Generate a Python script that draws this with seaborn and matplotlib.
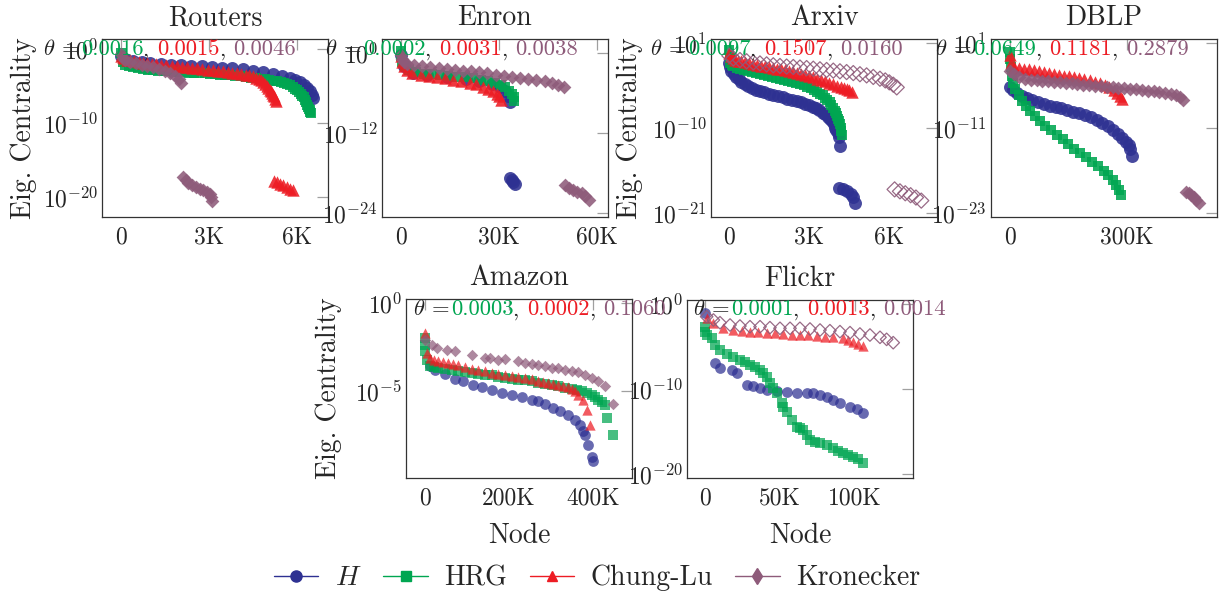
import numpy as np
import pandas as pd
import matplotlib
matplotlib.use("Agg")
import matplotlib.pyplot as plt
import seaborn as sns
from matplotlib.lines import Line2D
from matplotlib.offsetbox import TextArea, HPacker, AnnotationBbox
from matplotlib.ticker import FixedLocator, FixedFormatter, NullLocator

# ---------------- data (node index, log10 eigenvector centrality) ----------------
MODELS = ["H", "HRG", "Chung-Lu", "Kronecker"]
LEGEND_LABELS = ["$H$", "HRG", "Chung-Lu", "Kronecker"]
PANELS = ["Routers", "Enron", "Arxiv", "DBLP", "Amazon", "Flickr"]

ROUTERS_THETA = ["0.0016", "0.0015", "0.0046"]
ENRON_THETA = ["0.0002", "0.0031", "0.0038"]
ARXIV_THETA = ["0.0097", "0.1507", "0.0160"]
DBLP_THETA = ["0.0649", "0.1181", "0.2879"]
AMAZON_THETA = ["0.0003", "0.0002", "0.1060"]
FLICKR_THETA = ["0.0001", "0.0013", "0.0014"]

ROUTERS_XTICKS = [0, 3000, 6000]
ROUTERS_XTICKLABELS = ["0", "3K", "6K"]
ENRON_XTICKS = [0, 30000, 60000]
ENRON_XTICKLABELS = ["0", "30K", "60K"]
ARXIV_XTICKS = [0, 3000, 6000]
ARXIV_XTICKLABELS = ["0", "3K", "6K"]
DBLP_XTICKS = [0, 300000]
DBLP_XTICKLABELS = ["0", "300K"]
AMAZON_XTICKS = [0, 200000, 400000]
AMAZON_XTICKLABELS = ["0", "200K", "400K"]
FLICKR_XTICKS = [0, 50000, 100000]
FLICKR_XTICKLABELS = ["0", "50K", "100K"]

ROUTERS_YEXP = [0, -10, -20]
ENRON_YEXP = [0, -12, -24]
ARXIV_YEXP = [1, -10, -21]
DBLP_YEXP = [1, -11, -23]
AMAZON_YEXP = [0, -5]
FLICKR_YEXP = [0, -10, -20]

# Routers
ROUTERS_H_N = [0, 150, 400, 700, 1000, 1350, 1700, 2050, 2400, 2750, 3100, 3450, 3800, 4150, 4500, 4850, 5200, 5500, 5750, 5950, 6120, 6250, 6350, 6430, 6500, 6540]
ROUTERS_H_LOG = [-0.9, -1.4, -1.65, -1.78, -1.88, -2.0, -2.1, -2.2, -2.28, -2.36, -2.45, -2.54, -2.63, -2.76, -2.92, -3.1, -3.35, -3.6, -3.9, -4.2, -4.5, -4.9, -5.3, -5.7, -6.15, -6.6]
ROUTERS_HRG_N = [0, 20, 60, 150, 275, 400, 575, 750, 925, 1100, 1275, 1450, 1625, 1800, 1975, 2150, 2325, 2500, 2675, 2850, 3025, 3200, 3375, 3550, 3725, 3900, 4075, 4250, 4425, 4600, 4750, 4900, 5050, 5200, 5325, 5450, 5550, 5650, 5750, 5850, 5925, 6000, 6065, 6130, 6185, 6240, 6280, 6320, 6355, 6390, 6415, 6440, 6460, 6480]
ROUTERS_HRG_LOG = [-0.5, -1.1, -1.7, -2.2, -2.36, -2.48, -2.6, -2.7, -2.78, -2.85, -2.91, -2.97, -3.02, -3.06, -3.1, -3.14, -3.18, -3.22, -3.26, -3.3, -3.35, -3.4, -3.45, -3.5, -3.56, -3.62, -3.7, -3.78, -3.87, -3.97, -4.04, -4.12, -4.2, -4.28, -4.36, -4.45, -4.56, -4.7, -4.9, -5.15, -5.37, -5.6, -5.85, -6.1, -6.3, -6.5, -6.85, -7.2, -7.5, -7.8, -8.05, -8.3, -8.5, -8.7]
ROUTERS_CL_N = [0, 50, 100, 200, 300, 450, 600, 750, 900, 1050, 1200, 1375, 1550, 1725, 1900, 2075, 2250, 2425, 2600, 2775, 2950, 3125, 3300, 3475, 3650, 3800, 3950, 4100, 4250, 4375, 4500, 4600, 4700, 4775, 4850, 4920, 4980, 5030, 5080, 5120, 5160, 5200, 5230, 5260, 5285,
                5210, 5320, 5430, 5540, 5650, 5760, 5870]
ROUTERS_CL_LOG = [-0.9, -1.1, -1.25, -1.42, -1.55, -1.68, -1.78, -1.87, -1.95, -2.02, -2.08, -2.15, -2.21, -2.28, -2.34, -2.4, -2.47, -2.55, -2.62, -2.7, -2.78, -2.86, -2.95, -3.03, -3.12, -3.2, -3.28, -3.36, -3.45, -3.56, -3.7, -3.86, -4.05, -4.25, -4.5, -4.75, -5.0, -5.25, -5.5, -5.7, -5.9, -6.15, -6.4, -6.7, -7.05,
                  -17.8, -18.0, -18.2, -18.4, -18.6, -18.85, -19.1]
ROUTERS_KR_N = [0, 60, 150, 300, 500, 700, 900, 1100, 1300, 1500, 1680, 1840, 1960, 2060,
                2100, 2200, 2300, 2420, 2550, 2680, 2800, 2920, 3030, 3070, 3090]
ROUTERS_KR_LOG = [-0.7, -1.2, -1.5, -1.75, -1.93, -2.1, -2.28, -2.47, -2.7, -2.95, -3.25, -3.6, -4.0, -4.55,
                  -17.25, -17.65, -18.05, -18.35, -18.65, -18.9, -19.1, -19.35, -19.6, -20.0, -20.6]

# Enron
ENRON_H_N = [0, 1000, 3800, 8000, 14000, 20000, 24000, 28000, 30300, 31800, 32800, 33500,
             33400, 33900, 34400, 34900]
ENRON_H_LOG = [-0.3, -2.0, -3.0, -3.35, -3.65, -3.95, -4.2, -4.6, -5.1, -5.7, -6.4, -7.4,
               -18.8, -19.1, -19.35, -19.6]
ENRON_HRG_N = [0, 100, 400, 1200, 2500, 4500, 7000, 9500, 12000, 14500, 17000, 19500, 22000, 24500, 26800, 28800, 30500, 32000, 33200, 34000, 34500, 34700]
ENRON_HRG_LOG = [0.25, -0.5, -1.3, -2.0, -2.5, -2.85, -3.08, -3.2, -3.32, -3.43, -3.53, -3.67, -3.82, -4.0, -4.2, -4.45, -4.75, -5.15, -5.65, -6.15, -6.65, -7.15]
ENRON_CL_N = [0, 300, 800, 1800, 3500, 6000, 8500, 11000, 13500, 16000, 18500, 21000, 23000, 25000, 26800, 28200, 29300, 30100, 30600]
ENRON_CL_LOG = [-0.5, -1.3, -2.0, -2.6, -3.0, -3.3, -3.48, -3.65, -3.82, -4.0, -4.2, -4.45, -4.72, -5.05, -5.4, -5.75, -6.1, -6.5, -7.0]
ENRON_KR_N = [0, 300, 900, 2000, 4000, 6500, 9000, 11500, 14000, 16500, 19000, 21500, 24000, 26500, 29000, 31500, 34000, 36500, 39000, 41500, 44000, 46200, 48200, 49900,
              50200, 51400, 52700, 54000, 55300, 56500, 57600]
ENRON_KR_LOG = [-0.25, -0.9, -1.35, -1.6, -1.78, -1.98, -2.15, -2.28, -2.4, -2.52, -2.65, -2.77, -2.9, -3.07, -3.23, -3.4, -3.57, -3.73, -3.88, -4.05, -4.22, -4.45, -4.75, -5.15,
                -19.8, -20.2, -20.55, -20.8, -21.05, -21.5, -22.1]

# Arxiv
ARXIV_H_N = [0, 40, 80, 160, 250, 350, 450, 575, 700, 850, 1000, 1150, 1300, 1475, 1650, 1825, 2000, 2175, 2350, 2525, 2700, 2850, 3000, 3125, 3250, 3375, 3500, 3600, 3700, 3775, 3850, 3920, 3980, 4020, 4060, 4100, 4145,
             4100, 4250, 4400, 4550, 4650, 4720]
ARXIV_H_LOG = [-1.6, -2.1, -2.6, -2.95, -3.3, -3.65, -3.95, -4.25, -4.5, -4.77, -5.0, -5.18, -5.35, -5.53, -5.7, -5.85, -6.0, -6.15, -6.3, -6.45, -6.6, -6.8, -7.0, -7.2, -7.4, -7.65, -7.95, -8.2, -8.5, -8.75, -9.0, -9.45, -9.9, -10.25, -10.6, -11.1, -12.3,
               -17.7, -17.9, -18.1, -18.45, -18.85, -19.6]
ARXIV_HRG_N = [0, 15, 40, 90, 150, 275, 400, 550, 700, 850, 1000, 1150, 1300, 1450, 1600, 1750, 1900, 2050, 2200, 2350, 2500, 2650, 2800, 2925, 3050, 3175, 3300, 3400, 3500, 3590, 3680, 3760, 3830, 3890, 3950, 4000, 4050, 4090, 4130, 4155, 4180, 4195, 4210]
ARXIV_HRG_LOG = [0.1, -0.9, -1.5, -1.75, -1.93, -2.15, -2.35, -2.5, -2.62, -2.75, -2.88, -2.99, -3.1, -3.22, -3.35, -3.47, -3.6, -3.72, -3.85, -3.97, -4.1, -4.27, -4.45, -4.62, -4.8, -5.05, -5.3, -5.52, -5.75, -6.02, -6.3, -6.65, -7.0, -7.35, -7.7, -8.05, -8.4, -8.75, -9.1, -9.5, -9.9, -10.35, -10.8]
ARXIV_CL_N = [0, 60, 130, 200, 325, 450, 600, 750, 900, 1050, 1200, 1350, 1500, 1650, 1800, 1950, 2100, 2250, 2400, 2550, 2700, 2850, 3000, 3150, 3300, 3450, 3600, 3750, 3900, 4050, 4175, 4300, 4400, 4500, 4600]
ARXIV_CL_LOG = [-0.3, -0.7, -0.9, -1.1, -1.23, -1.35, -1.46, -1.57, -1.67, -1.77, -1.87, -1.98, -2.08, -2.18, -2.28, -2.38, -2.49, -2.6, -2.72, -2.85, -2.97, -3.1, -3.26, -3.42, -3.58, -3.75, -3.93, -4.12, -4.31, -4.5, -4.65, -4.8, -4.92, -5.05, -5.25]
ARXIV_KR_N = [0, 150, 400, 650, 900, 1150, 1400, 1650, 1900, 2150, 2400, 2650, 2900, 3150, 3400, 3650, 3900, 4150, 4400, 4650, 4900, 5150, 5400, 5650, 5850, 6000, 6150, 6280,
              6200, 6400, 6600, 6800, 7000, 7200]
ARXIV_KR_LOG = [-0.6, -0.95, -1.16, -1.32, -1.48, -1.6, -1.72, -1.84, -1.93, -2.0, -2.06, -2.13, -2.2, -2.28, -2.36, -2.45, -2.53, -2.62, -2.72, -2.85, -3.0, -3.15, -3.35, -3.58, -3.8, -4.05, -4.35, -4.7,
                -17.9, -18.15, -18.4, -18.65, -18.95, -19.35]

# DBLP
DBLP_H_N = [0, 8000, 18000, 30000, 43000, 57000, 72000, 87000, 102000, 117000, 132000, 147000, 162000, 177000, 192000, 207000, 222000, 237000, 252000, 265000, 277000, 288000, 297000, 304000, 309000, 312000]
DBLP_H_LOG = [-5.2, -5.65, -6.05, -6.4, -6.75, -7.05, -7.35, -7.6, -7.8, -8.0, -8.2, -8.42, -8.65, -8.9, -9.15, -9.45, -9.8, -10.2, -10.7, -11.2, -11.75, -12.3, -12.9, -13.4, -13.9, -14.9]
DBLP_HRG_N = [0, 500, 1700, 4000, 8000, 14000, 22000, 31000, 41000, 52000, 64000, 77000, 91000, 105000, 120000, 135000, 150000, 165000, 180000, 195000, 210000, 225000, 240000, 252000, 263000, 272000, 279000, 284000]
DBLP_HRG_LOG = [-0.2, -1.2, -2.3, -3.6, -4.6, -5.5, -6.3, -7.1, -7.85, -8.6, -9.3, -10.0, -10.65, -11.3, -11.9, -12.55, -13.2, -13.85, -14.45, -15.05, -15.7, -16.3, -17.0, -17.6, -18.3, -19.0, -19.7, -20.4]
DBLP_CL_N = [0, 3000, 10000, 22000, 35000, 48000, 61000, 74000, 87000, 100000, 113000, 126000, 139000, 152000, 165000, 178000, 191000, 204000, 217000, 230000, 243000, 255000, 266000, 275000, 283000, 288000]
DBLP_CL_LOG = [-0.65, -1.8, -2.3, -2.45, -2.57, -2.68, -2.78, -2.9, -3.02, -3.15, -3.28, -3.42, -3.55, -3.68, -3.82, -3.95, -4.1, -4.25, -4.42, -4.62, -4.85, -5.15, -5.55, -6.0, -6.45, -6.9]
DBLP_KR_N = [0, 10000, 23000, 38000, 53000, 68000, 83000, 98000, 113000, 128000, 143000, 158000, 173000, 188000, 203000, 218000, 233000, 248000, 263000, 278000, 293000, 308000, 323000, 338000, 353000, 368000, 383000, 398000, 412000, 425000, 436000, 444000,
             451700, 458000, 464500, 471000, 477300, 485800]
DBLP_KR_LOG = [-2.9, -3.4, -3.75, -3.98, -4.12, -4.22, -4.3, -4.38, -4.45, -4.52, -4.6, -4.67, -4.74, -4.82, -4.9, -4.97, -5.05, -5.13, -5.2, -5.28, -5.36, -5.44, -5.52, -5.6, -5.68, -5.77, -5.87, -6.0, -6.15, -6.35, -6.6, -7.0,
               -19.94, -20.15, -20.41, -20.75, -21.12, -21.49]

# Amazon
AMAZON_H_N = [11900, 23800, 47600, 71400, 91300, 115100, 134900, 158700, 182500, 206300, 230200, 254000, 269800, 285700, 305600, 321400, 341300, 357100, 369000, 377000, 381000, 388900, 396800, 400800]
AMAZON_H_LOG = [-3.6, -3.79, -4.03, -4.3, -4.45, -4.68, -4.75, -4.92, -5.11, -5.21, -5.36, -5.49, -5.59, -5.74, -5.97, -6.16, -6.38, -6.63, -6.91, -7.25, -7.48, -8.05, -8.77, -9.0]
AMAZON_HRG_N = [0, 500, 1000, 4000, 11900, 21800, 31700, 47600, 63500, 79400, 95200, 111100, 127000, 142900, 158700, 174600, 190500, 206300, 222200, 238100, 254000, 269800, 285700, 301600, 317500, 333300, 349200, 361100, 373000, 384900, 396800, 404800, 412700, 420600, 428600, 432500, 448400]
AMAZON_HRG_LOG = [-1.99, -2.37, -2.75, -3.22, -3.6, -3.65, -3.69, -3.74, -3.79, -3.85, -3.92, -3.97, -4.03, -4.07, -4.11, -4.18, -4.26, -4.31, -4.36, -4.4, -4.45, -4.52, -4.6, -4.66, -4.73, -4.8, -4.87, -4.95, -5.02, -5.1, -5.21, -5.35, -5.49, -5.62, -5.78, -6.53, -7.48]
AMAZON_CL_N = [0, 4000, 11900, 21800, 31700, 43600, 55600, 67500, 79400, 95200, 111100, 127000, 142900, 158700, 174600, 190500, 206300, 222200, 238100, 254000, 269800, 281700, 293700, 305600, 317500, 329400, 341300, 349200, 357100, 365100, 377000, 384900, 392900]
AMAZON_CL_LOG = [-1.7, -2.84, -3.13, -3.22, -3.31, -3.36, -3.41, -3.45, -3.5, -3.62, -3.73, -3.8, -3.88, -3.95, -4.03, -4.1, -4.17, -4.22, -4.26, -4.34, -4.41, -4.48, -4.55, -4.62, -4.68, -4.73, -4.79, -4.9, -5.02, -5.21, -5.49, -6.06, -6.91]
AMAZON_KR_N = [0, 15900, 27800, 51600, 71400, 111100, 142900, 154800, 174600, 190500, 222200, 238100, 254000, 269800, 285700, 301600, 317500, 333300, 349200, 365100, 381000, 396800, 412700, 428600, 448400]
AMAZON_KR_LOG = [-2.08, -2.37, -2.56, -2.65, -2.71, -2.94, -3.13, -3.13, -3.22, -3.18, -3.31, -3.41, -3.47, -3.5, -3.6, -3.69, -3.69, -3.79, -3.88, -3.92, -4.11, -4.26, -4.45, -4.73, -5.74]

# Flickr
FLICKR_H_N = [0, 6670, 10000, 17800, 21100, 27800, 32200, 36700, 41100, 47800, 54400, 61100, 67800, 72200, 76700, 81100, 85500, 90000, 96700, 101100, 105500]
FLICKR_H_LOG = [-1.1, -6.98, -7.57, -7.76, -8.16, -9.53, -9.65, -9.92, -10.12, -10.24, -10.31, -10.43, -10.51, -10.51, -10.71, -10.98, -11.29, -11.69, -12.08, -12.39, -12.86]
FLICKR_HRG_N = [0, 300, 1100, 4400, 6700, 10000, 14400, 18900, 23300, 26700, 30000, 33300, 36700, 38900, 41100, 43300, 45600, 47800, 51100, 52200, 54400, 57800, 61100, 63300, 65500, 67800, 70000, 73300, 76700, 81100, 85500, 88900, 92200, 95500, 98900, 102200, 105500]
FLICKR_HRG_LOG = [-2.67, -3.25, -3.65, -4.04, -4.82, -5.41, -5.88, -6.2, -6.59, -6.78, -7.18, -7.45, -7.76, -8.16, -8.55, -9.33, -9.92, -10.51, -11.69, -12.08, -12.67, -13.65, -14.43, -14.63, -14.82, -15.41, -16.0, -16.2, -16.39, -16.59, -16.98, -17.25, -17.57, -17.76, -17.96, -18.27, -18.75]
FLICKR_CL_N = [1100, 5600, 12200, 18900, 24400, 30000, 35600, 41100, 46700, 52200, 57800, 63300, 68900, 74400, 80000, 85500, 92200, 95500, 98900, 102200, 105500]
FLICKR_CL_LOG = [-1.69, -2.27, -2.86, -3.06, -3.16, -3.25, -3.31, -3.37, -3.45, -3.53, -3.59, -3.65, -3.7, -3.76, -3.84, -3.92, -4.04, -4.2, -4.43, -4.68, -4.94]
FLICKR_KR_N = [1100, 5600, 10000, 16700, 23300, 30000, 36700, 43300, 50000, 56700, 63300, 70000, 76700, 83300, 90000, 96700, 103300, 110000, 116700, 121100, 125500]
FLICKR_KR_LOG = [-1.49, -1.88, -2.2, -2.47, -2.59, -2.67, -2.67, -2.78, -2.86, -2.86, -2.86, -2.94, -3.06, -3.14, -3.25, -3.37, -3.53, -3.65, -3.92, -4.16, -4.55]

# ---------------- style ----------------
sns.set_style("white")
plt.rcParams["font.family"] = ["cmr10", "DejaVu Serif"]
plt.rcParams["mathtext.fontset"] = "cm"
plt.rcParams["axes.unicode_minus"] = False
plt.rcParams["axes.formatter.use_mathtext"] = True

COLORS = {"H": "#2e3192", "HRG": "#00a651", "Chung-Lu": "#ed1c24", "Kronecker": "#8e5b7a"}
MARKERS = {"H": "o", "HRG": "s", "Chung-Lu": "^", "Kronecker": "D"}
SIZES = {"H": 60, "HRG": 42, "Chung-Lu": 55, "Kronecker": 34}
LEG_MS = {"H": 8, "HRG": 7, "Chung-Lu": 7.5, "Kronecker": 8}
LEG_MK = {"H": "o", "HRG": "s", "Chung-Lu": "^", "Kronecker": "d"}

W, H = 1219, 596
fig = plt.figure(figsize=(W / 100, H / 100), dpi=100)

# layout in pixels: left, top, right, bottom
LAYOUT = {
    "Routers": (102, 39, 328, 217),
    "Enron": (382, 39, 608, 217),
    "Arxiv": (711, 39, 937, 217),
    "DBLP": (991, 39, 1217, 217),
    "Amazon": (406, 299, 632, 478),
    "Flickr": (687, 300, 913, 478),
}
XLIM = {
    "Routers": (-650, 7060), "Enron": (-5800, 63400), "Arxiv": (-686, 7790),
    "DBLP": (-48700, 530800), "Amazon": (-45200, 492900), "Flickr": (-12000, 138700),
}
YLIM = {
    "Routers": (-22.7, 1.35), "Enron": (-24.6, 2.1), "Arxiv": (-21.47, 1.56),
    "DBLP": (-23.5, 1.6), "Amazon": (-9.94, 0.23), "Flickr": (-20.47, 0.47),
}
YLABEL_X = {"Routers": -0.288, "Arxiv": -0.30, "Amazon": -0.283}
THETA_POS = {"Routers": (43, 49.5), "Enron": (325, 49.5), "Arxiv": (650, 49.5),
             "DBLP": (935, 49.5), "Amazon": (413, 309.5), "Flickr": (693, 309.5)}
HOLLOW_KR = {"Arxiv", "Flickr"}

DATA = {
    "Routers": [(ROUTERS_H_N, ROUTERS_H_LOG), (ROUTERS_HRG_N, ROUTERS_HRG_LOG), (ROUTERS_CL_N, ROUTERS_CL_LOG), (ROUTERS_KR_N, ROUTERS_KR_LOG)],
    "Enron": [(ENRON_H_N, ENRON_H_LOG), (ENRON_HRG_N, ENRON_HRG_LOG), (ENRON_CL_N, ENRON_CL_LOG), (ENRON_KR_N, ENRON_KR_LOG)],
    "Arxiv": [(ARXIV_H_N, ARXIV_H_LOG), (ARXIV_HRG_N, ARXIV_HRG_LOG), (ARXIV_CL_N, ARXIV_CL_LOG), (ARXIV_KR_N, ARXIV_KR_LOG)],
    "DBLP": [(DBLP_H_N, DBLP_H_LOG), (DBLP_HRG_N, DBLP_HRG_LOG), (DBLP_CL_N, DBLP_CL_LOG), (DBLP_KR_N, DBLP_KR_LOG)],
    "Amazon": [(AMAZON_H_N, AMAZON_H_LOG), (AMAZON_HRG_N, AMAZON_HRG_LOG), (AMAZON_CL_N, AMAZON_CL_LOG), (AMAZON_KR_N, AMAZON_KR_LOG)],
    "Flickr": [(FLICKR_H_N, FLICKR_H_LOG), (FLICKR_HRG_N, FLICKR_HRG_LOG), (FLICKR_CL_N, FLICKR_CL_LOG), (FLICKR_KR_N, FLICKR_KR_LOG)],
}
XT = {"Routers": (ROUTERS_XTICKS, ROUTERS_XTICKLABELS), "Enron": (ENRON_XTICKS, ENRON_XTICKLABELS),
      "Arxiv": (ARXIV_XTICKS, ARXIV_XTICKLABELS), "DBLP": (DBLP_XTICKS, DBLP_XTICKLABELS),
      "Amazon": (AMAZON_XTICKS, AMAZON_XTICKLABELS), "Flickr": (FLICKR_XTICKS, FLICKR_XTICKLABELS)}
YT = {"Routers": ROUTERS_YEXP, "Enron": ENRON_YEXP, "Arxiv": ARXIV_YEXP, "DBLP": DBLP_YEXP,
      "Amazon": AMAZON_YEXP, "Flickr": FLICKR_YEXP}
THETAS = {"Routers": ROUTERS_THETA, "Enron": ENRON_THETA, "Arxiv": ARXIV_THETA, "DBLP": DBLP_THETA,
          "Amazon": AMAZON_THETA, "Flickr": FLICKR_THETA}

for panel in PANELS:
    l, t, r, b = LAYOUT[panel]
    ax = fig.add_axes([l / W, 1 - b / H, (r - l) / W, (b - t) / H])
    bottom_row = panel in ("Amazon", "Flickr")
    scale = 1.0 if bottom_row else 1.45
    base_alpha = 0.72 if bottom_row else 0.88
    for model, (nodes, logs) in zip(MODELS, DATA[panel]):
        df = pd.DataFrame({"node": nodes, "centrality": 10.0 ** np.asarray(logs)})
        hollow = (model == "Kronecker" and panel in HOLLOW_KR)
        sns.scatterplot(data=df, x="node", y="centrality", ax=ax, marker=MARKERS[model],
                        color=COLORS[model], s=SIZES[model] * scale * (1.2 if hollow else 1.0),
                        alpha=base_alpha if not hollow else 0.9,
                        edgecolor=COLORS[model], linewidth=0.9 if hollow else 0, legend=False)
        if hollow:
            coll = ax.collections[-1]
            coll.set_facecolor("none")
            coll.set_edgecolor(COLORS[model])
    ax.set_yscale("log")
    ax.set_xlim(*XLIM[panel])
    ax.set_ylim(10.0 ** YLIM[panel][0], 10.0 ** YLIM[panel][1])
    xt, xtl = XT[panel]
    ax.xaxis.set_major_locator(FixedLocator(xt))
    ax.xaxis.set_major_formatter(FixedFormatter(xtl))
    ye = YT[panel]
    ax.yaxis.set_major_locator(FixedLocator([10.0 ** e for e in ye]))
    ax.yaxis.set_major_formatter(FixedFormatter([r"$10^{%d}$" % e for e in ye]))
    ax.yaxis.set_minor_locator(NullLocator())
    ax.xaxis.set_minor_locator(NullLocator())
    ax.tick_params(axis="both", which="major", direction="in", length=8, width=0.9,
                   color="#a0a0a0", top=True, right=True, labelsize=17)
    ax.tick_params(axis="x", pad=7)
    ax.tick_params(axis="y", pad=3)
    for sp in ax.spines.values():
        sp.set_color("#333333")
        sp.set_linewidth(0.9)
    ax.set_title(panel, fontsize=20, pad=10)
    ax.set_xlabel("")
    ax.set_ylabel("")
    if panel in YLABEL_X:
        ax.set_ylabel("Eig. Centrality", fontsize=20)
        ax.yaxis.set_label_coords(YLABEL_X[panel], 0.5)
    if bottom_row:
        ax.set_xlabel("Node", fontsize=20)
        ax.xaxis.set_label_coords(0.5, -0.25)

    th = THETAS[panel]
    parts = [TextArea(r"$\theta$ = ", textprops=dict(color="#222222", fontsize=16.3))]
    cols = [COLORS["HRG"], COLORS["Chung-Lu"], COLORS["Kronecker"]]
    for i, (val, c) in enumerate(zip(th, cols)):
        parts.append(TextArea(val, textprops=dict(color=c, fontsize=16.3)))
        if i < 2:
            parts.append(TextArea(", ", textprops=dict(color="#222222", fontsize=16.3)))
    box = HPacker(children=parts, align="baseline", pad=0, sep=0)
    px, py = THETA_POS[panel]
    ab = AnnotationBbox(box, (px, H - py), xycoords="figure pixels", box_alignment=(0, 0.5),
                        frameon=False, pad=0)
    fig.add_artist(ab)

handles = [Line2D([0], [0], color=COLORS[m], lw=1.0, marker=LEG_MK[m], markersize=LEG_MS[m],
                  markerfacecolor=COLORS[m], markeredgecolor=COLORS[m]) for m in MODELS]
fig.legend(handles, LEGEND_LABELS, loc="center", bbox_to_anchor=(597 / W, 1 - 578 / H), ncol=4,
           frameon=False, fontsize=20, handlelength=1.6, handletextpad=0.6, columnspacing=0.8,
           borderaxespad=0, borderpad=0)

fig.savefig("out.png", dpi=100)
